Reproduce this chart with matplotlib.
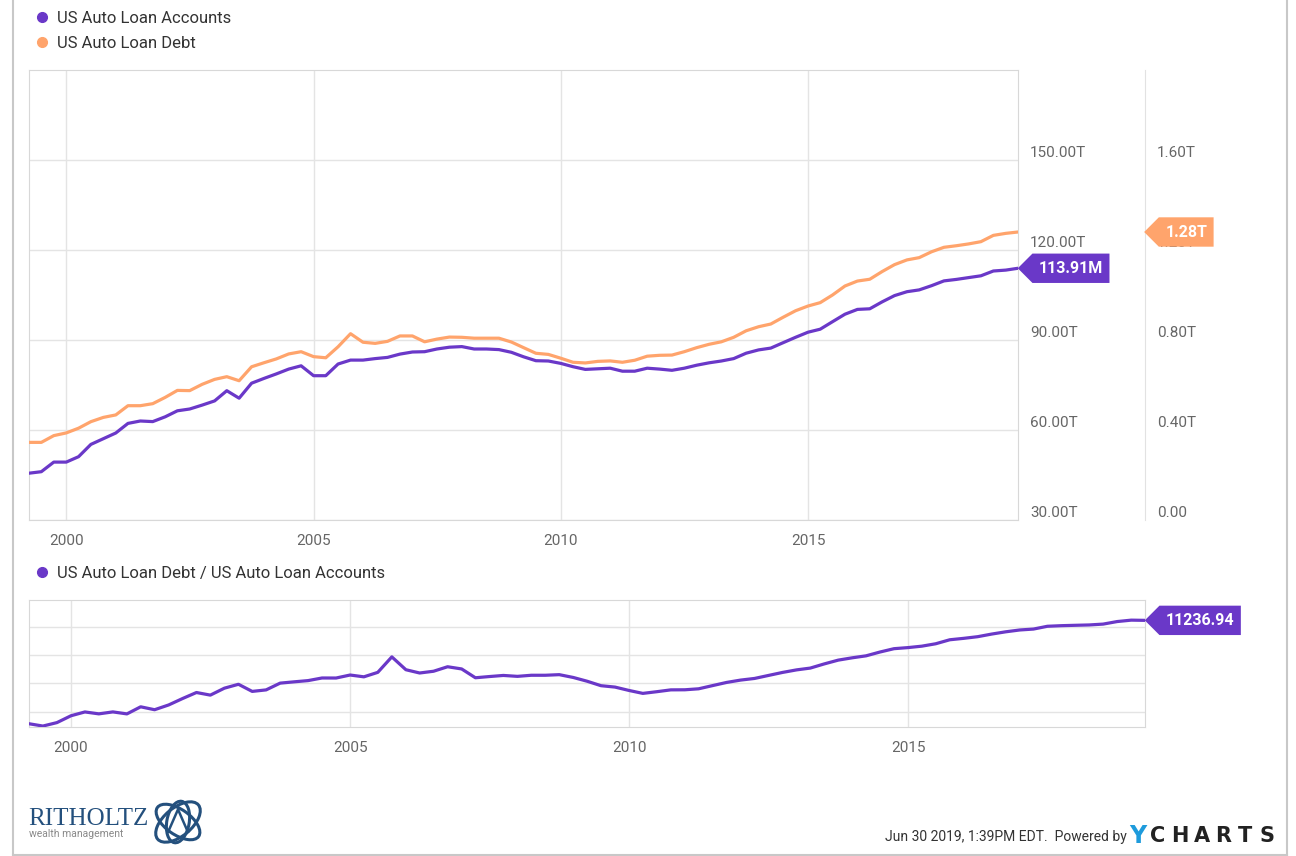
import numpy as np
import pandas as pd
import matplotlib
matplotlib.use('Agg')
from matplotlib import pyplot as plt
import matplotlib.dates as mdates
from matplotlib.path import Path
from matplotlib.lines import Line2D
from matplotlib.patches import Ellipse

plt.rcParams['font.family'] = ['Roboto', 'DejaVu Sans']

# quarterly data 1999Q1 - 2019Q1
dates = pd.period_range('1999Q1', '2019Q1', freq='Q').to_timestamp(how='end')

# US Auto Loan Accounts, millions
accounts = [45.6, 46.1, 49.3, 49.3, 51.1, 55.2, 57.1, 59.0, 62.2, 63.0,
            62.8, 64.4, 66.4, 67.0, 68.3, 69.7, 73.1, 70.6, 75.6, 77.2,
            78.7, 80.3, 81.4, 78.1, 78.1, 82.0, 83.3, 83.3, 83.8, 84.2,
            85.3, 86.0, 86.1, 87.0, 87.6, 87.8, 87.0, 87.0, 86.8, 85.9,
            84.4, 83.1, 83.0, 82.2, 81.1, 80.2, 80.4, 80.6, 79.6, 79.6,
            80.6, 80.3, 79.9, 80.6, 81.6, 82.4, 83.0, 83.8, 85.6, 86.7,
            87.3, 89.1, 90.9, 92.6, 93.6, 96.1, 98.6, 100.2, 100.4, 102.7,
            104.8, 106.1, 106.7, 108.1, 109.7, 110.2, 110.8, 111.4, 113.0, 113.3,
            113.91]

# US Auto Loan Debt, trillions
debt = [0.345, 0.345, 0.375, 0.387, 0.408, 0.437, 0.456, 0.467, 0.508, 0.508,
        0.517, 0.545, 0.576, 0.575, 0.603, 0.625, 0.637, 0.619, 0.681, 0.699,
        0.716, 0.738, 0.748, 0.726, 0.721, 0.770, 0.828, 0.790, 0.785, 0.794,
        0.818, 0.818, 0.792, 0.804, 0.813, 0.812, 0.808, 0.808, 0.808, 0.791,
        0.766, 0.741, 0.736, 0.719, 0.701, 0.698, 0.705, 0.707, 0.701, 0.710,
        0.728, 0.732, 0.733, 0.748, 0.766, 0.781, 0.792, 0.812, 0.841, 0.859,
        0.871, 0.901, 0.930, 0.951, 0.966, 1.000, 1.040, 1.062, 1.070, 1.104,
        1.135, 1.156, 1.166, 1.192, 1.212, 1.219, 1.227, 1.237, 1.265, 1.274,
        1.28]

acc_ticks = [30, 60, 90, 120, 150]
acc_labels = ['30.00T', '60.00T', '90.00T', '120.00T', '150.00T']
debt_ticks = [0, 0.4, 0.8, 1.2, 1.6]
debt_labels = ['0.00', '0.40T', '0.80T', '1.20T', '1.60T']

# debt per account, dollars
ratio = np.array(debt) * 1e12 / (np.array(accounts) * 1e6)

purple = '#6a38c8'
orange = '#ffa46c'
grid_c = '#e4e4e4'
tick_c = '#666666'


def tag(x0, y0, width, height, mutation_size):
    # pudelko z trojkatnym czubkiem po lewej
    padx = 0.4 * mutation_size
    pady = 0.45 * mutation_size
    x0, y0 = x0 - padx, y0 - pady
    width, height = width + 2 * padx, height + 2 * pady
    tip = height * 0.5
    verts = [(x0 - tip, y0 + height / 2), (x0, y0), (x0 + width, y0),
             (x0 + width, y0 + height), (x0, y0 + height),
             (x0 - tip, y0 + height / 2)]
    return Path(verts, closed=True)


W, H = 1296, 856
fig = plt.figure(figsize=(W / 100, H / 100), dpi=100)

# ---- top panel
ax = fig.add_axes([29 / W, 1 - 520 / H, 989 / W, 450 / H])
ax.plot(dates, accounts, color=purple, lw=2.3, solid_capstyle='round', zorder=3)
ax2 = ax.twinx()
ax2.plot(dates, debt, color=orange, lw=2.3, solid_capstyle='round', zorder=3)

ax.set_ylim(30, 180)
ax.set_xlim(dates[0], dates[-1])
ax.set_yticks(acc_ticks)
ax.set_yticklabels(acc_labels)
ax.yaxis.tick_right()
ax.tick_params(axis='y', length=0, pad=8.6, labelsize=11, labelcolor=tick_c)
ax.xaxis.set_major_locator(mdates.YearLocator(5))
ax.xaxis.set_major_formatter(mdates.DateFormatter('%Y'))
ax.tick_params(axis='x', length=0, pad=10, labelsize=11, labelcolor=tick_c)
ax.grid(True, color=grid_c, lw=1)
ax.set_axisbelow(True)
for s in ax.spines.values():
    s.set_color('#d8d8d8')

ax2.set_ylim(0, 2.0)
ax2.set_yticks(debt_ticks)
ax2.set_yticklabels(debt_labels)
ax2.tick_params(axis='y', length=0, pad=8.6, labelsize=11, labelcolor=tick_c)
for k in ['left', 'top', 'bottom']:
    ax2.spines[k].set_visible(False)
ax2.spines['right'].set_position(('outward', 91.4))
ax2.spines['right'].set_color('#e2e2e2')

ax.annotate(f'{accounts[-1]:.2f}M', xy=(1, accounts[-1]), xycoords=('axes fraction', 'data'),
            xytext=(15, 0), textcoords='offset points', ha='left', va='center',
            color='white', fontsize=11.5, fontweight='bold', annotation_clip=False,
            bbox=dict(boxstyle=tag, fc=purple, ec='none'), zorder=10)
ax2.annotate(f'{debt[-1]:.2f}T', xy=(1, debt[-1]), xycoords=('axes fraction', 'data'),
             xytext=(106, 0), textcoords='offset points', ha='left', va='center',
             color='white', fontsize=11.5, fontweight='bold', annotation_clip=False,
             bbox=dict(boxstyle=tag, fc=orange, ec='none'), zorder=10)

h1 = Line2D([], [], marker='o', ls='', color=purple, ms=7)
h2 = Line2D([], [], marker='o', ls='', color=orange, ms=7)
fig.legend([h1, h2], ['US Auto Loan Accounts', 'US Auto Loan Debt'],
           loc='upper left', bbox_to_anchor=(37 / W, 1 - 11 / H), frameon=False,
           fontsize=12, handlelength=0.6, handletextpad=0.6, labelspacing=0.6,
           borderpad=0, borderaxespad=0, labelcolor='#333333')

# ---- bottom panel
ax3 = fig.add_axes([29 / W, 1 - 727 / H, 1116 / W, 127 / H])
ax3.plot(dates, ratio, color=purple, lw=2.3, solid_capstyle='round', zorder=3)
ax3.set_xlim(dates[0], dates[-1])
ax3.set_ylim(7450, 11960)
ax3.set_yticks([8000, 9000, 10000, 11000])
ax3.tick_params(axis='y', length=0, labelleft=False)
ax3.xaxis.set_major_locator(mdates.YearLocator(5))
ax3.xaxis.set_major_formatter(mdates.DateFormatter('%Y'))
ax3.tick_params(axis='x', length=0, pad=10, labelsize=11, labelcolor=tick_c)
ax3.grid(True, color=grid_c, lw=1)
ax3.set_axisbelow(True)
for s in ax3.spines.values():
    s.set_color('#d8d8d8')
ax3.annotate(f'{ratio[-1]:.2f}', xy=(1, ratio[-1]), xycoords=('axes fraction', 'data'),
             xytext=(15, 0), textcoords='offset points', ha='left', va='center',
             color='white', fontsize=11.5, fontweight='bold', annotation_clip=False,
             bbox=dict(boxstyle=tag, fc=purple, ec='none'), zorder=10)

h3 = Line2D([], [], marker='o', ls='', color=purple, ms=7)
fig.legend([h3], ['US Auto Loan Debt / US Auto Loan Accounts'],
           loc='upper left', bbox_to_anchor=(37 / W, 1 - 566 / H), frameon=False,
           fontsize=12, handlelength=0.6, handletextpad=0.6,
           borderpad=0, borderaxespad=0, labelcolor='#333333')

# ---- frame
for xs, ys in [([13 / W, 13 / W], [0, 1]), ([1287 / W, 1287 / W], [0, 1]),
               ([13 / W, 1287 / W], [1 / H, 1 / H])]:
    fig.add_artist(Line2D(xs, ys, transform=fig.transFigure, color='#c8c8c8', lw=1.5))

# ---- footer
fig.text(1127 / W, 1 - 837 / H, 'Jun 30 2019, 1:39PM EDT.  Powered by', ha='right', va='center',
         fontsize=10, color='#333333')
fig.text(1138 / W, 1 - 836 / H, 'Y', ha='center', va='center', fontsize=17,
         fontweight='bold', color='#1e9bdc', family='DejaVu Sans')
for i, ch in enumerate('CHARTS'):
    fig.text((1158 + i * 21.8) / W, 1 - 836 / H, ch, ha='center', va='center', fontsize=15,
             fontweight='bold', color='#222222', family='DejaVu Sans')

# ritholtz logo
fig.text(28 / W, 1 - 819 / H, 'RITHOLTZ', ha='left', va='center', fontsize=18,
         color='#24507d', family='Liberation Serif')
fig.text(29 / W, 1 - 834 / H, 'wealth management', ha='left', va='center', fontsize=7.5,
         color='#8a8a8a')
lax = fig.add_axes([150 / W, 1 - 850 / H, 56 / W, 56 / H])
lax.set_xlim(-1, 1)
lax.set_ylim(-1, 1)
lax.axis('off')
for ang, w, h in [(40, 1.9, 1.0), (-35, 1.8, 0.9), (80, 1.5, 0.8)]:
    lax.add_patch(Ellipse((0, 0), w, h, angle=ang, fill=False, ec='#24507d', lw=2.2))
lax.plot([-0.35, 0, 0.35], [-0.35, 0.45, -0.35], color='#24507d', lw=1.8)

# napisy osi nad liniami siatki
for a in (ax, ax2):
    for tk in a.yaxis.get_major_ticks():
        tk.label2.set_verticalalignment('bottom')

fig.savefig('out.png', dpi=100)
